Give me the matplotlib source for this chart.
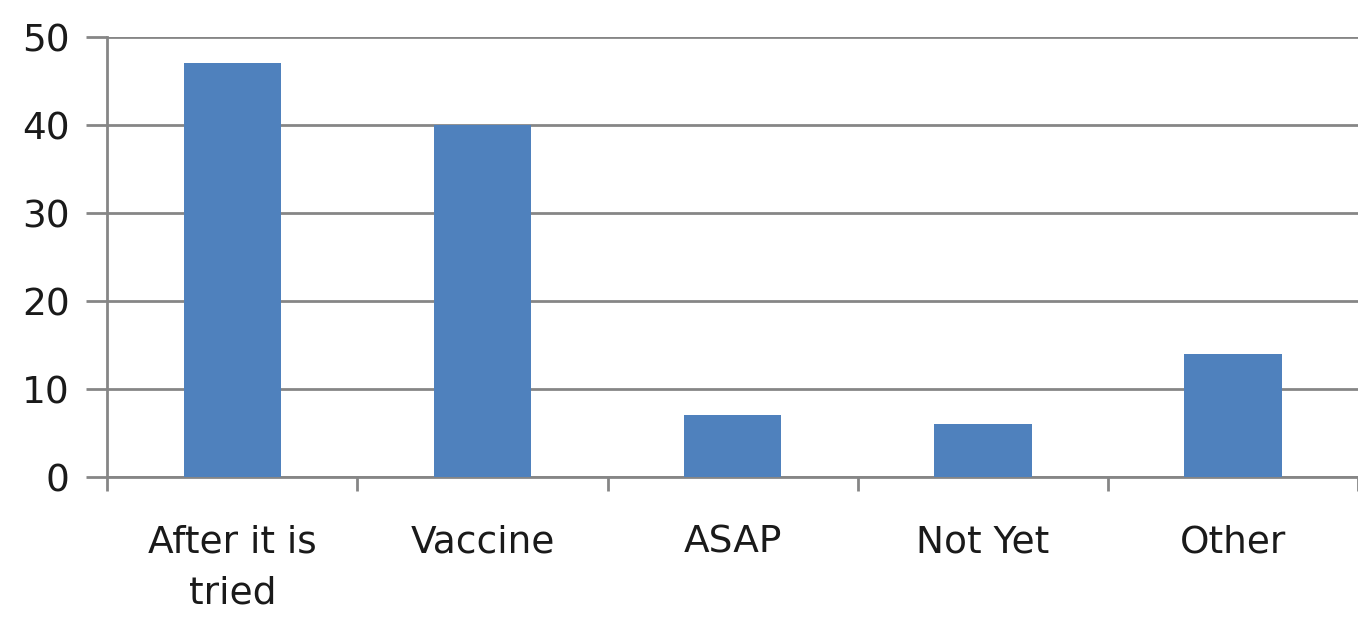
import matplotlib
matplotlib.use("Agg")
import matplotlib.pyplot as plt
import numpy as np

categories = ["After it is\ntried", "Vaccine", "ASAP", "Not Yet", "Other"]
values = [47, 40, 7, 6, 14]
yticks = [0, 10, 20, 30, 40, 50]

fig = plt.figure(figsize=(13.58, 6.18), dpi=100)
ax = fig.add_axes([0.079, 0.228, 0.921, 0.712])

x = np.arange(len(categories))
ax.bar(x, values, width=0.39, color="#4F81BD", zorder=3)

ax.set_xlim(-0.5, len(categories) - 0.5)
ax.set_ylim(0, 50)
ax.set_yticks(yticks)
ax.yaxis.grid(True, color="#868686", linewidth=2, zorder=0)
ax.set_axisbelow(True)

for s in ["top", "right"]:
    ax.spines[s].set_visible(False)
for s in ["left", "bottom"]:
    ax.spines[s].set_color("#868686")
    ax.spines[s].set_linewidth(2)

ax.tick_params(axis="y", length=15, width=2, color="#868686", labelsize=27,
               labelcolor="#1a1a1a", pad=12)
# x ticks at category boundaries
ax.set_xticks(np.arange(len(categories) + 1) - 0.5)
ax.set_xticklabels([])
ax.tick_params(axis="x", which="major", length=10, width=2, color="#868686")
ax.set_xticks(x, minor=True)
ax.set_xticklabels(categories, minor=True, fontsize=27, color="#1a1a1a",
                   linespacing=1.55)
ax.tick_params(axis="x", which="minor", length=0, pad=34)

fig.savefig("out.png", dpi=100)
